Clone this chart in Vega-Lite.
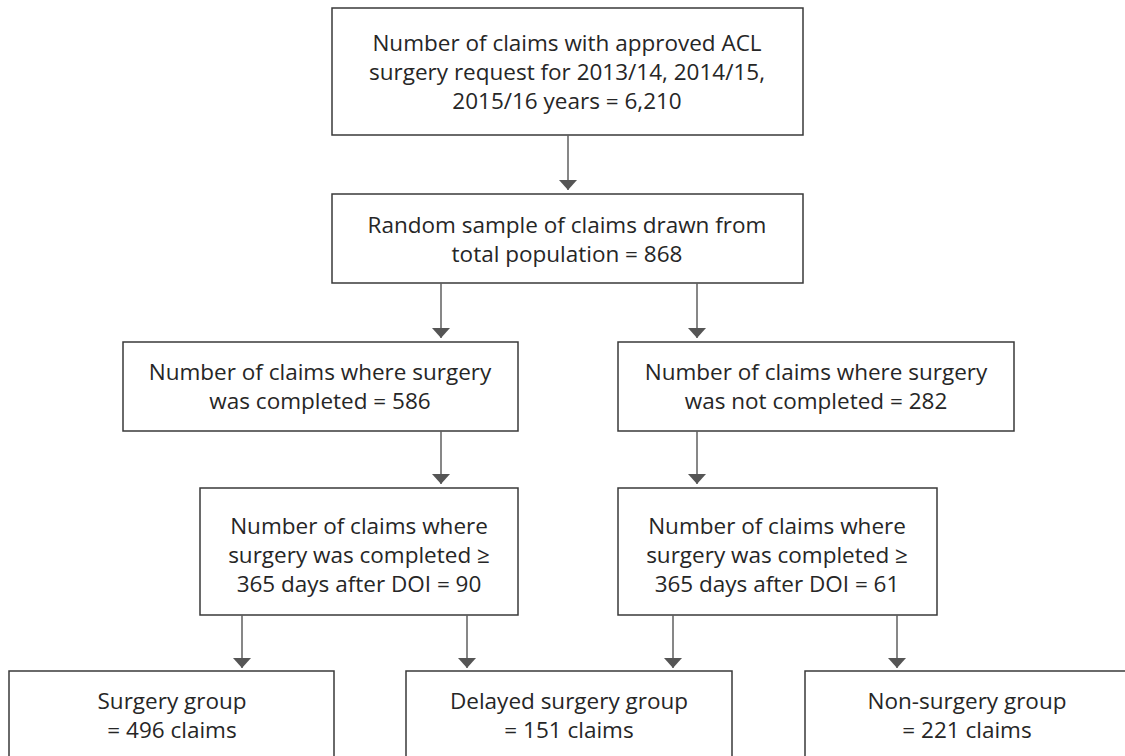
{
  "$schema": "https://vega.github.io/schema/vega-lite/v6.json",
  "width": 1125,
  "height": 756,
  "autosize": {"type": "fit", "contains": "padding"},
  "padding": 0,
  "background": "white",
  "config": {"view": {"stroke": null}},
  "datasets": {
    "boxes": [
      {"id": "total", "x": 332, "x2": 803, "y": 8, "y2": 135, "cx": 567, "cy": 44, "label": "Number of claims with approved ACL\nsurgery request for 2013/14, 2014/15,\n2015/16 years = 6,210"},
      {"id": "sample", "x": 332, "x2": 803, "y": 194, "y2": 283, "cx": 567, "cy": 226, "label": "Random sample of claims drawn from\ntotal population = 868"},
      {"id": "completed", "x": 123, "x2": 518, "y": 342, "y2": 431, "cx": 320, "cy": 373, "label": "Number of claims where surgery\nwas completed = 586"},
      {"id": "notcompleted", "x": 618, "x2": 1014, "y": 342, "y2": 431, "cx": 816, "cy": 373, "label": "Number of claims where surgery\nwas not completed = 282"},
      {"id": "late1", "x": 200, "x2": 518, "y": 488, "y2": 615, "cx": 359, "cy": 527, "label": "Number of claims where\nsurgery was completed ≥\n365 days after DOI = 90"},
      {"id": "late2", "x": 618, "x2": 937, "y": 488, "y2": 615, "cx": 777, "cy": 527, "label": "Number of claims where\nsurgery was completed ≥\n365 days after DOI = 61"},
      {"id": "surgery", "x": 9, "x2": 334, "y": 671, "y2": 770, "cx": 172, "cy": 702, "label": "Surgery group\n= 496 claims"},
      {"id": "delayed", "x": 406, "x2": 732, "y": 671, "y2": 770, "cx": 569, "cy": 702, "label": "Delayed surgery group\n= 151 claims"},
      {"id": "nonsurgery", "x": 805, "x2": 1129, "y": 671, "y2": 770, "cx": 967, "cy": 702, "label": "Non-surgery group\n= 221 claims"}
    ],
    "arrows": [
      {"x": 568, "from": 135, "tip": 190},
      {"x": 441, "from": 283, "tip": 338},
      {"x": 697, "from": 283, "tip": 338},
      {"x": 441, "from": 431, "tip": 484},
      {"x": 697, "from": 431, "tip": 484},
      {"x": 242, "from": 615, "tip": 668},
      {"x": 467, "from": 615, "tip": 668},
      {"x": 673, "from": 615, "tip": 668},
      {"x": 897, "from": 615, "tip": 668}
    ]
  },
  "layer": [
    {
      "data": {"name": "boxes"},
      "mark": {"type": "rect", "fill": "white", "stroke": "#3a3a3a", "strokeWidth": 1.5, "clip": true},
      "encoding": {
        "x": {"field": "x", "type": "quantitative", "scale": {"domain": [0, 1125], "nice": false, "zero": false}, "axis": null},
        "x2": {"field": "x2"},
        "y": {"field": "y", "type": "quantitative", "scale": {"domain": [0, 756], "nice": false, "zero": false, "reverse": true}, "axis": null},
        "y2": {"field": "y2"}
      }
    },
    {
      "data": {"name": "boxes"},
      "mark": {"type": "text", "font": "Open Sans", "fontSize": 22.5, "lineHeight": 29, "lineBreak": "\n", "align": "center", "baseline": "middle", "color": "#262626"},
      "encoding": {
        "x": {"field": "cx", "type": "quantitative"},
        "y": {"field": "cy", "type": "quantitative"},
        "text": {"field": "label"}
      }
    },
    {
      "data": {"name": "arrows"},
      "mark": {"type": "rule", "color": "#5f5f5f", "strokeWidth": 1.5},
      "encoding": {
        "x": {"field": "x", "type": "quantitative"},
        "y": {"field": "from", "type": "quantitative"},
        "y2": {"field": "tip"}
      }
    },
    {
      "data": {"name": "arrows"},
      "mark": {"type": "point", "shape": "M-1,-1.1L1,-1.1L0,0Z", "size": 324, "filled": true, "color": "#555555", "opacity": 1, "strokeWidth": 0},
      "encoding": {
        "x": {"field": "x", "type": "quantitative"},
        "y": {"field": "tip", "type": "quantitative"}
      }
    }
  ]
}
